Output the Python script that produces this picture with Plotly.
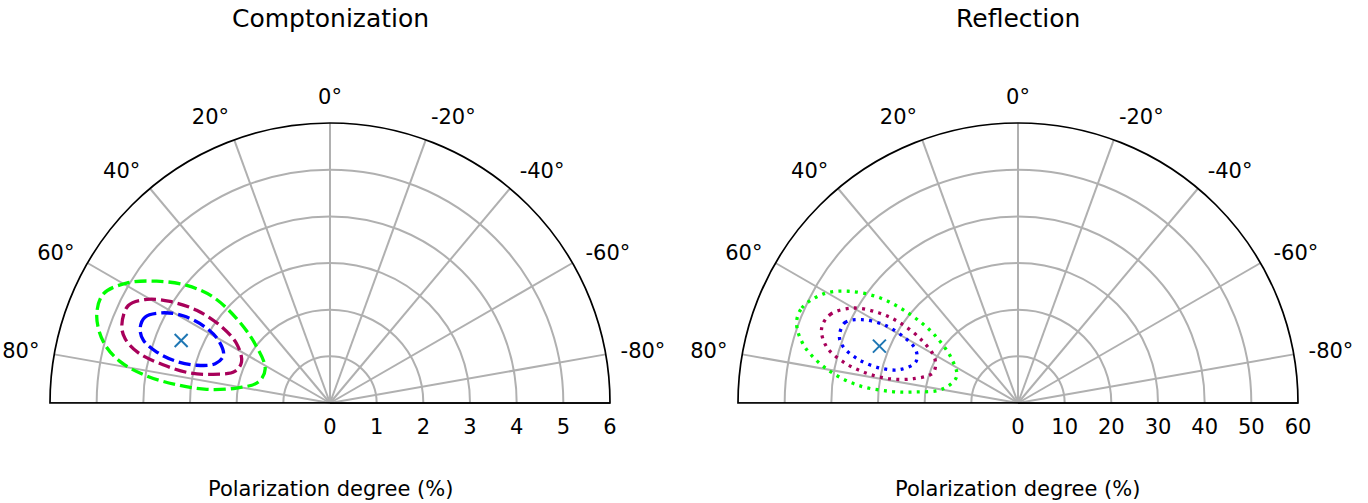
import plotly.graph_objects as go

# ---- data (r in %, theta in degrees) ----
compt_center_r = [3.46]
compt_center_theta = [67.2]

compt_green_r = [5.34, 5.39, 5.06, 4.54, 3.97, 3.38, 2.69, 2.05, 1.57, 1.60, 2.03, 2.66, 3.31, 3.97, 4.59, 5.03]
compt_green_theta = [69.4, 64.3, 59.5, 54.9, 50.6, 47.8, 47.9, 51.7, 62.2, 73.7, 80.9, 83.7, 83.2, 81.6, 78.8, 74.9]

compt_purple_r = [4.76, 4.80, 4.51, 4.06, 3.48, 2.89, 2.37, 2.09, 2.15, 2.58, 3.07, 3.67, 4.25, 4.60]
compt_purple_theta = [69.6, 64.2, 60.5, 57.6, 55.2, 54.8, 57.6, 65.1, 71.6, 76.2, 77.9, 77.1, 75.3, 72.6]

compt_blue_r = [4.37, 4.37, 4.09, 3.66, 3.13, 2.74, 2.50, 2.60, 2.97, 3.44, 3.87, 4.22]
compt_blue_theta = [68.6, 65.1, 61.8, 59.3, 58.7, 60.7, 65.9, 71.1, 74.2, 74.8, 73.6, 71.4]

refl_center_r = [32.1]
refl_center_theta = [67.7]

refl_green_r = [50.4, 50.6, 47.8, 43.5, 37.2, 30.0, 23.4, 17.1, 14.3, 16.6, 22.2, 27.5, 34.4, 41.2, 47.2]
refl_green_theta = [70.3, 66.3, 60.7, 56.6, 52.7, 50.6, 50.7, 56.3, 67.0, 79.8, 83.9, 84.8, 83.7, 80.2, 75.3]

refl_purple_r = [45.0, 44.5, 40.7, 35.6, 30.6, 24.6, 20.2, 19.3, 23.0, 27.9, 33.4, 38.4, 42.7]
refl_purple_theta = [69.3, 64.8, 60.0, 57.1, 55.8, 56.9, 61.9, 70.3, 76.9, 79.3, 78.8, 76.8, 73.7]

refl_blue_r = [40.8, 40.9, 37.9, 33.0, 27.9, 24.6, 23.6, 26.3, 30.5, 35.5, 39.3]
refl_blue_theta = [69.7, 65.1, 61.9, 59.7, 60.1, 62.7, 68.1, 74.2, 75.8, 74.7, 72.2]

angle_ticks = [-80, -60, -40, -20, 0, 20, 40, 60, 80]
angle_labels = [f"{a}°" for a in angle_ticks]
compt_rticks = [0, 1, 2, 3, 4, 5, 6]
refl_rticks = [0, 10, 20, 30, 40, 50, 60]

titles = ["Comptonization", "Reflection"]
xlabel = "Polarization degree (%)"

GREEN = "#00ff00"
PURPLE = "#a8005a"
BLUE = "#0000ff"
MARK = "#1f77b4"
GRID = "#b0b0b0"
FONT = "DejaVu Sans"
W, H = 1368, 503


def closed(v):
    return list(v) + [v[0]]


fig = go.Figure()

sets = [
    ("polar", compt_green_r, compt_green_theta, compt_purple_r, compt_purple_theta,
     compt_blue_r, compt_blue_theta, compt_center_r, compt_center_theta, "12px,5px", 6),
    ("polar2", refl_green_r, refl_green_theta, refl_purple_r, refl_purple_theta,
     refl_blue_r, refl_blue_theta, refl_center_r, refl_center_theta, "3px,5.3px", 60),
]

for (sp, gr, gt, pr, pt, br, bt, cr, ct, dash, rmax) in sets:
    # left half of the frame baseline
    fig.add_trace(go.Scatterpolar(r=[0, rmax], theta=[90, 90], mode="lines",
                                  line=dict(color="black", width=1.7),
                                  subplot=sp, showlegend=False, hoverinfo="skip"))
    for rr, tt, col in [(gr, gt, GREEN), (pr, pt, PURPLE), (br, bt, BLUE)]:
        fig.add_trace(go.Scatterpolar(r=closed(rr), theta=closed(tt), mode="lines",
                                      line=dict(color=col, width=3.3, dash=dash, shape="spline",
                                                smoothing=1.0),
                                      subplot=sp, showlegend=False))
    fig.add_trace(go.Scatterpolar(r=cr, theta=ct, mode="markers",
                                  marker=dict(symbol="x-thin", size=13,
                                              line=dict(color=MARK, width=2)),
                                  subplot=sp, showlegend=False))


def polar_layout(x0, x1, rticks):
    return dict(
        domain=dict(x=[x0 / W, x1 / W], y=[(H - 403) / H, (H - 123) / H]),
        sector=[0, 180],
        bgcolor="white",
        angularaxis=dict(
            rotation=90, direction="counterclockwise",
            tickmode="array", tickvals=angle_ticks, ticktext=angle_labels,
            showgrid=True, gridcolor=GRID, gridwidth=1.5,
            showline=True, linecolor="black", linewidth=1.7,
            ticks="outside", ticklen=10, tickcolor="rgba(0,0,0,0)",
            tickfont=dict(family=FONT, size=21, color="black"),
        ),
        radialaxis=dict(
            range=[0, rticks[-1]], tickmode="array", tickvals=rticks,
            ticktext=[str(v) for v in rticks],
            showgrid=True, gridcolor=GRID, gridwidth=1.5,
            showline=True, linecolor="black", linewidth=1.7,
            ticks="outside", ticklen=5, tickcolor="rgba(0,0,0,0)",
            tickfont=dict(family=FONT, size=21, color="black"),
            angle=0, side="clockwise",
        ),
    )


def ann(text, x, y, size):
    return dict(text=text, x=x / W, y=1 - y / H, xref="paper", yref="paper",
                showarrow=False, font=dict(family=FONT, size=size, color="black"),
                xanchor="center", yanchor="middle")


fig.update_layout(
    width=W, height=H,
    margin=dict(l=0, r=0, t=0, b=0),
    paper_bgcolor="white", plot_bgcolor="white",
    font=dict(family=FONT, size=21, color="black"),
    polar=polar_layout(50, 610, compt_rticks),
    polar2=polar_layout(738, 1298, refl_rticks),
    annotations=[
        ann(titles[0], 330, 18, 25),
        ann(titles[1], 1018, 18, 25),
        ann(xlabel, 330, 489, 21),
        ann(xlabel, 1018, 489, 21),
    ],
)

fig.write_html("out.html", config={"displayModeBar": False},
               post_script="document.body.style.margin='0';document.body.style.overflow='hidden';")
